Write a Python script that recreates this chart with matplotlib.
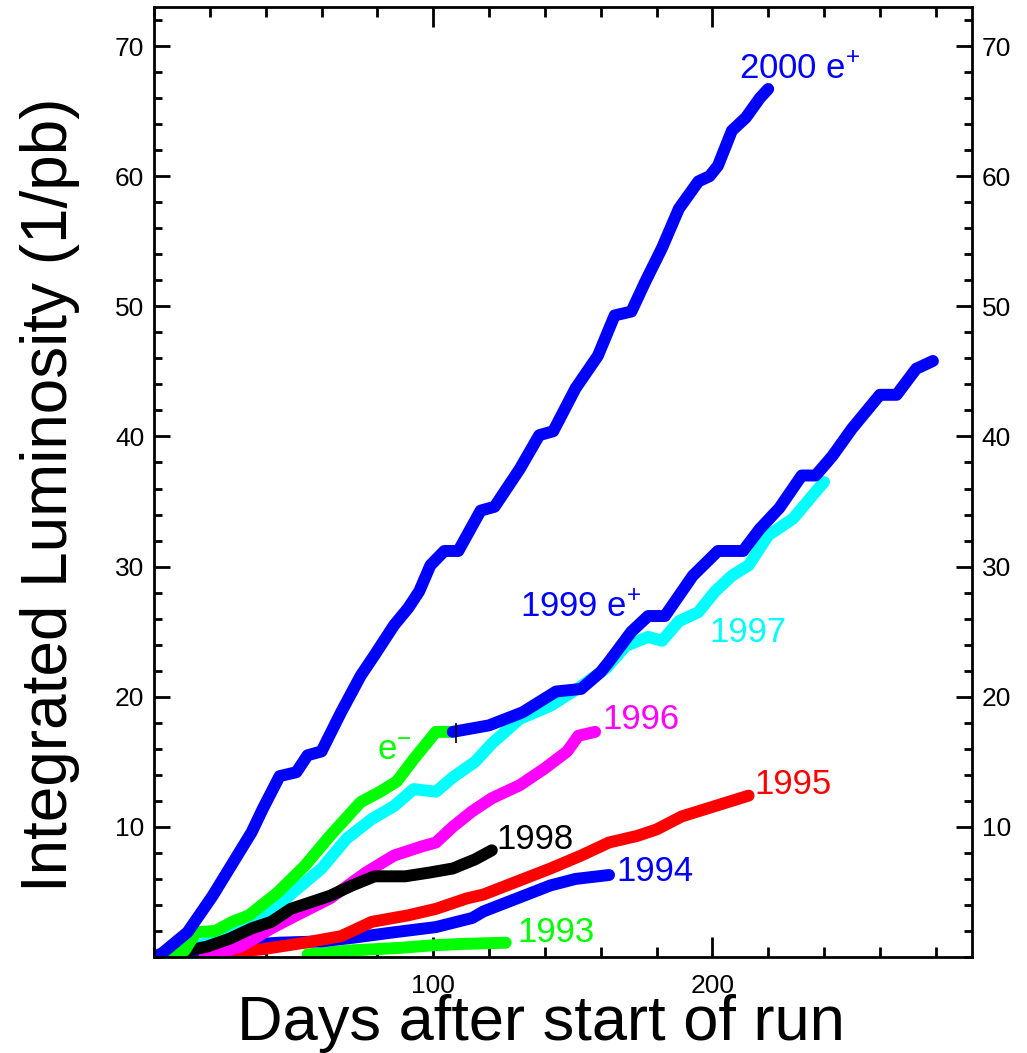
import matplotlib
matplotlib.use("Agg")
import matplotlib.pyplot as plt
from matplotlib.ticker import MultipleLocator, FixedLocator

plt.rcParams['font.family'] = ['Liberation Sans', 'DejaVu Sans']
plt.rcParams['mathtext.fontset'] = 'custom'
plt.rcParams['mathtext.rm'] = 'Liberation Sans'
plt.rcParams['mathtext.it'] = 'Liberation Sans:italic'

# ---------------- data ----------------
days_1993 = [55, 70, 88, 100, 110, 126]
lum_1993 = [0.2, 0.5, 0.7, 0.9, 1.0, 1.1]

days_1994 = [8, 30, 45, 60, 72, 86, 101, 114, 118, 130, 142, 151, 163]
lum_1994 = [0.2, 0.9, 1.1, 1.2, 1.5, 1.9, 2.3, 3.0, 3.5, 4.5, 5.5, 6.0, 6.3]

days_1995 = [20, 39, 54, 67, 78, 91, 101, 112, 118, 130, 142, 153, 163, 173, 180, 189, 201, 213]
lum_1995 = [0.2, 0.6, 1.1, 1.6, 2.7, 3.2, 3.7, 4.5, 4.8, 5.8, 6.8, 7.8, 8.8, 9.3, 9.8, 10.8, 11.6, 12.4]

days_1996 = [18, 31, 42, 51, 63, 76, 86, 96, 101, 107, 114, 121, 131, 140, 148, 152, 158]
lum_1996 = [0.0, 0.8, 2.2, 3.2, 4.5, 6.5, 7.8, 8.5, 8.8, 10.0, 11.2, 12.2, 13.2, 14.5, 15.8, 17.0, 17.3]

days_1997 = [4, 15, 28, 39, 50, 60, 69, 78, 86, 93, 101, 107, 115, 121, 131, 142, 153, 162,
             169, 177, 182, 188, 195, 201, 207, 213, 220, 229, 236, 240]
lum_1997 = [0.0, 0.8, 1.8, 2.9, 5.0, 6.8, 9.1, 10.6, 11.6, 12.9, 12.7, 13.8, 15.0, 16.4, 18.3, 19.3, 20.8, 22.2,
            23.9, 24.6, 24.3, 25.8, 26.5, 28.1, 29.3, 30.1, 32.4, 33.7, 35.5, 36.5]

days_1998 = [6, 10, 19, 27, 35, 42, 49, 56, 63, 71, 79, 90, 99, 107, 115, 121]
lum_1998 = [0.0, 0.4, 0.8, 1.4, 2.2, 2.7, 3.7, 4.2, 4.7, 5.5, 6.2, 6.2, 6.5, 6.8, 7.5, 8.2]

days_1999_em = [6, 11, 15, 22, 28, 34, 44, 54, 63, 74, 81, 87, 93, 101, 106]
lum_1999_em = [0.0, 0.5, 1.9, 2.0, 2.7, 3.2, 4.9, 7.0, 9.3, 11.9, 12.7, 13.5, 15.2, 17.3, 17.3]

days_1999_ep = [107, 120, 132, 144, 153, 160, 163, 171, 177, 183, 193, 202, 211, 217, 224, 232,
                237, 243, 250, 260, 266, 273, 279]
lum_1999_ep = [17.3, 17.8, 18.8, 20.4, 20.6, 21.9, 22.7, 25.0, 26.2, 26.2, 29.3, 31.2, 31.2, 32.9, 34.5, 37.0,
               37.0, 38.5, 40.6, 43.2, 43.2, 45.2, 45.8]

days_2000 = [0, 3, 12, 21, 29, 35, 39, 45, 51, 55, 60, 67, 74, 79, 86, 91, 95, 99, 104, 109, 117, 122,
             131, 138, 143, 151, 159, 165, 171, 176, 182, 188, 195, 199, 202, 207, 212, 217, 220]
lum_2000 = [0.0, 0.3, 1.9, 4.7, 7.5, 9.6, 11.4, 13.9, 14.2, 15.5, 15.8, 18.8, 21.6, 23.2, 25.5, 26.8, 28.1, 30.1,
            31.2, 31.2, 34.3, 34.6, 37.5, 40.1, 40.4, 43.7, 46.2, 49.3, 49.6, 51.9, 54.5, 57.5, 59.6, 60.0,
            60.8, 63.5, 64.5, 66.0, 66.7]

switch_day = [108]
switch_lum = [17.2]

labels = ["1993", "1994", "1995", "1996", "1997", "1998", r"e$^{\mathrm{-}}$",
          r"1999 e$^{\mathrm{+}}$", r"2000 e$^{\mathrm{+}}$"]
label_days = [130.2, 165.7, 215, 160.6, 199, 122.7, 79.8, 131, 209.7]
label_lums = [1.15, 5.85, 12.5, 17.5, 24.2, 8.3, 15.1, 26.15, 67.5]

x_tick_labels = ["100", "200"]
y_tick_labels = ["10", "20", "30", "40", "50", "60", "70"]

# ---------------- figure ----------------
W, H = 1027, 1053
fig = plt.figure(figsize=(W / 100, H / 100), dpi=100)
ax = fig.add_axes([154 / W, 1 - 957 / H, (972 - 154) / W, (957 - 7) / H])

lw = 8.6
series = [
    (days_1993, lum_1993, "#00ff00"),
    (days_1994, lum_1994, "#0000ff"),
    (days_1995, lum_1995, "#ff0000"),
    (days_1996, lum_1996, "#ff00ff"),
    (days_1997, lum_1997, "#00ffff"),
    (days_1998, lum_1998, "#000000"),
    (days_1999_em, lum_1999_em, "#00ff00"),
    (days_1999_ep, lum_1999_ep, "#0000ff"),
    (days_2000, lum_2000, "#0000ff"),
]
for d, l, c in series:
    ax.plot(d, l, color=c, lw=lw, solid_capstyle='round', solid_joinstyle='round')

ax.plot(switch_day, switch_lum, marker='|', color='black', markersize=14, mew=1.2, ls='none')

label_colors = ["#00ff00", "#0000ff", "#ff0000", "#ff00ff", "#00ffff", "#000000",
                "#00ff00", "#0000ff", "#0000ff"]
for t, xd, yl, c in zip(labels, label_days, label_lums, label_colors):
    ax.text(xd, yl, t, color=c, fontsize=25, ha='left', va='baseline')

ax.set_xlim(0, 293)
ax.set_ylim(0, 73)

ax.xaxis.set_major_locator(FixedLocator([100, 200]))
ax.set_xticklabels(x_tick_labels)
ax.xaxis.set_minor_locator(MultipleLocator(20))
ax.yaxis.set_major_locator(FixedLocator([10, 20, 30, 40, 50, 60, 70]))
ax.set_yticklabels(y_tick_labels)
ax.yaxis.set_minor_locator(MultipleLocator(2))

ax.tick_params(axis='x', which='both', direction='in', top=True, bottom=True, width=2,
               labelsize=19, pad=12)
ax.tick_params(axis='x', which='major', length=14.5)
ax.tick_params(axis='x', which='minor', length=7.2)
ax.tick_params(axis='y', which='both', direction='in', left=True, right=True, width=2,
               labelsize=19, labelright=True, pad=7)
ax.tick_params(axis='y', which='major', length=11.5)
ax.tick_params(axis='y', which='minor', length=5.8)

for s in ax.spines.values():
    s.set_linewidth(2)

fig.text(541 / W, 13 / H, "Days after start of run", fontsize=45.5, ha='center', va='baseline')
fig.text(50 / W, 1 - 495 / H, "Integrated Luminosity (1/pb)", fontsize=46, rotation=90,
         ha='center', va='center')

fig.savefig("out.png", dpi=100)
